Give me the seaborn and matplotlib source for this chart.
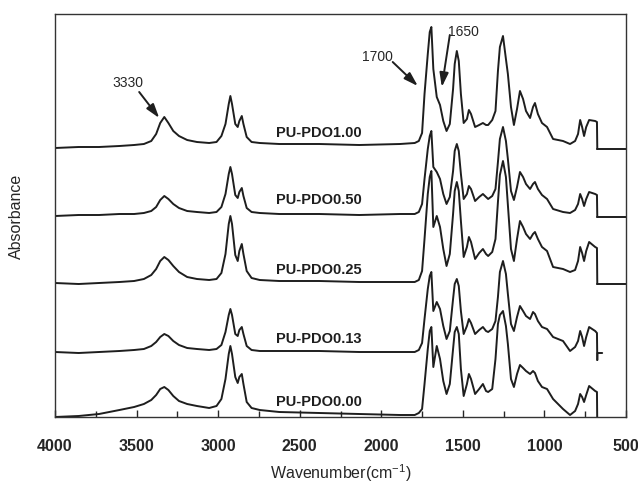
import matplotlib
matplotlib.use("Agg")
import matplotlib.pyplot as plt
from matplotlib.ticker import MultipleLocator
import seaborn as sns
import pandas as pd

# wavenumber grid (cm-1) shared by all spectra
wavenumber = [4000, 3855, 3730, 3605, 3515, 3455, 3410, 3380, 3355, 3330,
              3305, 3275, 3240, 3190, 3130, 3055, 3010, 2980, 2955, 2935,
              2925, 2915, 2895, 2880, 2870, 2855, 2845, 2825, 2795, 2745,
              2625, 2380, 2135, 1885, 1795, 1770, 1750, 1735, 1715, 1703,
              1693, 1681, 1660, 1640, 1620, 1600, 1580, 1560, 1550, 1537,
              1525, 1512, 1495, 1475, 1463, 1450, 1425, 1400, 1377, 1358,
              1345, 1320, 1300, 1285, 1273, 1254, 1236, 1224, 1205, 1187,
              1168, 1150, 1131, 1113, 1088, 1070, 1058, 1040, 1015, 984,
              947, 886, 843, 812, 794, 781, 769, 757, 744, 726,
              689, 678, 676]

# stacked absorbance (arbitrary units, x100)
pdo_100 = [269, 270, 270, 271, 272, 273, 276, 283, 294, 300,
           294, 286, 281, 277, 275, 274, 275, 281, 293, 313,
           321, 313, 293, 290, 296, 301, 293, 280, 275, 274,
           273, 273, 272, 273, 274, 276, 284, 323, 363, 385,
           390, 348, 320, 312, 296, 286, 293, 328, 353, 366,
           356, 323, 294, 298, 307, 303, 290, 292, 294, 292,
           292, 297, 306, 346, 370, 381, 358, 343, 310, 292,
           308, 326, 318, 306, 299, 310, 314, 303, 294, 290,
           278, 276, 273, 276, 283, 297, 290, 281, 290, 297,
           296, 295, 268]
pdo_050 = [201, 202, 202, 203, 203, 204, 206, 210, 217, 221,
           218, 213, 209, 206, 205, 204, 205, 210, 223, 243,
           250, 243, 222, 219, 225, 229, 221, 209, 205, 204,
           203, 203, 202, 203, 203, 205, 213, 238, 268, 281,
           286, 250, 245, 238, 223, 213, 220, 246, 266, 273,
           266, 243, 218, 223, 231, 228, 216, 220, 223, 220,
           218, 221, 228, 255, 278, 290, 276, 258, 226, 217,
           230, 245, 240, 233, 228, 233, 235, 228, 222, 218,
           208, 205, 204, 207, 213, 223, 218, 211, 218, 225,
           223, 222, 200]
pdo_025 = [134, 133, 134, 135, 136, 138, 142, 148, 156, 160,
           157, 151, 145, 140, 138, 137, 138, 144, 163, 193,
           201, 193, 162, 156, 166, 173, 163, 146, 139, 137,
           136, 136, 135, 135, 135, 137, 146, 178, 223, 240,
           246, 190, 201, 190, 168, 151, 163, 203, 226, 235,
           226, 196, 160, 170, 180, 175, 158, 164, 168, 163,
           161, 165, 178, 215, 242, 256, 240, 212, 168, 156,
           178, 196, 190, 183, 178, 183, 185, 178, 170, 166,
           150, 148, 145, 147, 156, 170, 164, 156, 166, 175,
           170, 169, 133]
pdo_013 = [65, 64, 65, 66, 67, 68, 71, 75, 80, 83,
           81, 76, 72, 69, 68, 67, 68, 72, 85, 102,
           108, 102, 83, 81, 87, 90, 83, 71, 67, 66,
           66, 66, 65, 65, 65, 67, 74, 98, 128, 141,
           145, 106, 115, 108, 91, 78, 86, 118, 133, 138,
           131, 106, 83, 91, 98, 94, 83, 87, 90, 86,
           85, 88, 96, 120, 145, 156, 143, 123, 93, 86,
           100, 111, 106, 101, 98, 105, 103, 96, 90, 88,
           80, 76, 66, 70, 76, 86, 80, 71, 80, 90,
           86, 84, 57]
pdo_000 = [0, 1, 3, 7, 10, 13, 17, 22, 28, 30,
           27, 21, 16, 13, 11, 9, 11, 18, 38, 63,
           71, 63, 40, 34, 40, 43, 33, 15, 9, 7,
           5, 4, 3, 2, 2, 4, 8, 33, 68, 86,
           90, 50, 71, 58, 36, 23, 33, 68, 85, 90,
           83, 48, 21, 33, 43, 38, 23, 28, 33, 26,
           25, 28, 58, 93, 102, 106, 91, 73, 38, 30,
           43, 52, 49, 46, 43, 46, 44, 36, 30, 28,
           18, 8, 2, 6, 13, 23, 20, 15, 22, 31,
           26, 25, -10]

# flat tails after the cut-off near 676 cm-1
tail_wn = [676, 500]
tail_100 = [268, 268]
tail_050 = [200, 200]
tail_025 = [133, 133]
tail_013_wn = [676, 675, 646]
tail_013 = [57, 64, 64]

samples = ["PU-PDO1.00", "PU-PDO0.50", "PU-PDO0.25", "PU-PDO0.13", "PU-PDO0.00"]
label_y = [285, 218, 148, 79, 16]

spectra = [pdo_100, pdo_050, pdo_025, pdo_013, pdo_000]
tails = [(tail_wn, tail_100), (tail_wn, tail_050), (tail_wn, tail_025),
         (tail_013_wn, tail_013), None]

sns.set_theme(style="ticks")
plt.rcParams["font.family"] = ["Liberation Sans", "DejaVu Sans"]
plt.rcParams["mathtext.default"] = "regular"

fig = plt.figure(figsize=(6.38, 4.89), dpi=100)
ax = fig.add_axes([55 / 638, 71 / 489, 571 / 638, 403 / 489])

line_color = "#1e1e1e"
for name, y, tail in zip(samples, spectra, tails):
    df = pd.DataFrame({"wavenumber": wavenumber, "absorbance": y})
    sns.lineplot(data=df, x="wavenumber", y="absorbance", ax=ax,
                 color=line_color, linewidth=1.4, sort=False, estimator=None)
    if tail is not None:
        sns.lineplot(x=tail[0], y=tail[1], ax=ax, color=line_color,
                     linewidth=1.4, sort=False, estimator=None)

for name, ly in zip(samples, label_y):
    ax.text(2643, ly, name, ha="left", va="center", fontsize=10.5,
            fontweight="bold", color="#1e1e1e")

arrow = dict(arrowstyle="-|>,head_length=0.7,head_width=0.22",
             color="#1e1e1e", lw=1.4, mutation_scale=12,
             shrinkA=0, shrinkB=0)
ax.annotate("", xy=(3361, 299), xytext=(3484, 325), arrowprops=arrow)
ax.text(3552, 335, "3330", ha="center", va="center", fontsize=10)
ax.annotate("", xy=(1776, 331), xytext=(1930, 355), arrowprops=arrow)
ax.text(2022, 361, "1700", ha="center", va="center", fontsize=10)
ax.annotate("", xy=(1629, 330), xytext=(1580, 382), arrowprops=arrow)
ax.text(1494, 386, "1650", ha="center", va="center", fontsize=10)

ax.set_xlim(4000, 500)
ax.set_ylim(0, 403)
ax.xaxis.set_major_locator(MultipleLocator(500))
ax.xaxis.set_minor_locator(MultipleLocator(250))
ax.tick_params(axis="x", which="major", direction="in", length=5, width=1,
               pad=15, labelsize=11.5)
ax.tick_params(axis="x", which="minor", direction="in", length=4, width=1)
for lbl in ax.get_xticklabels():
    lbl.set_fontweight("bold")
ax.set_yticks([])
for s in ax.spines.values():
    s.set_linewidth(1.0)
    s.set_color("#333333")

ax.set_xlabel("Wavenumber(cm$^{-1}$)", fontsize=11.5, labelpad=6)
ax.set_ylabel("Absorbance", fontsize=11.5, labelpad=22)

fig.savefig("out.png", dpi=100)
